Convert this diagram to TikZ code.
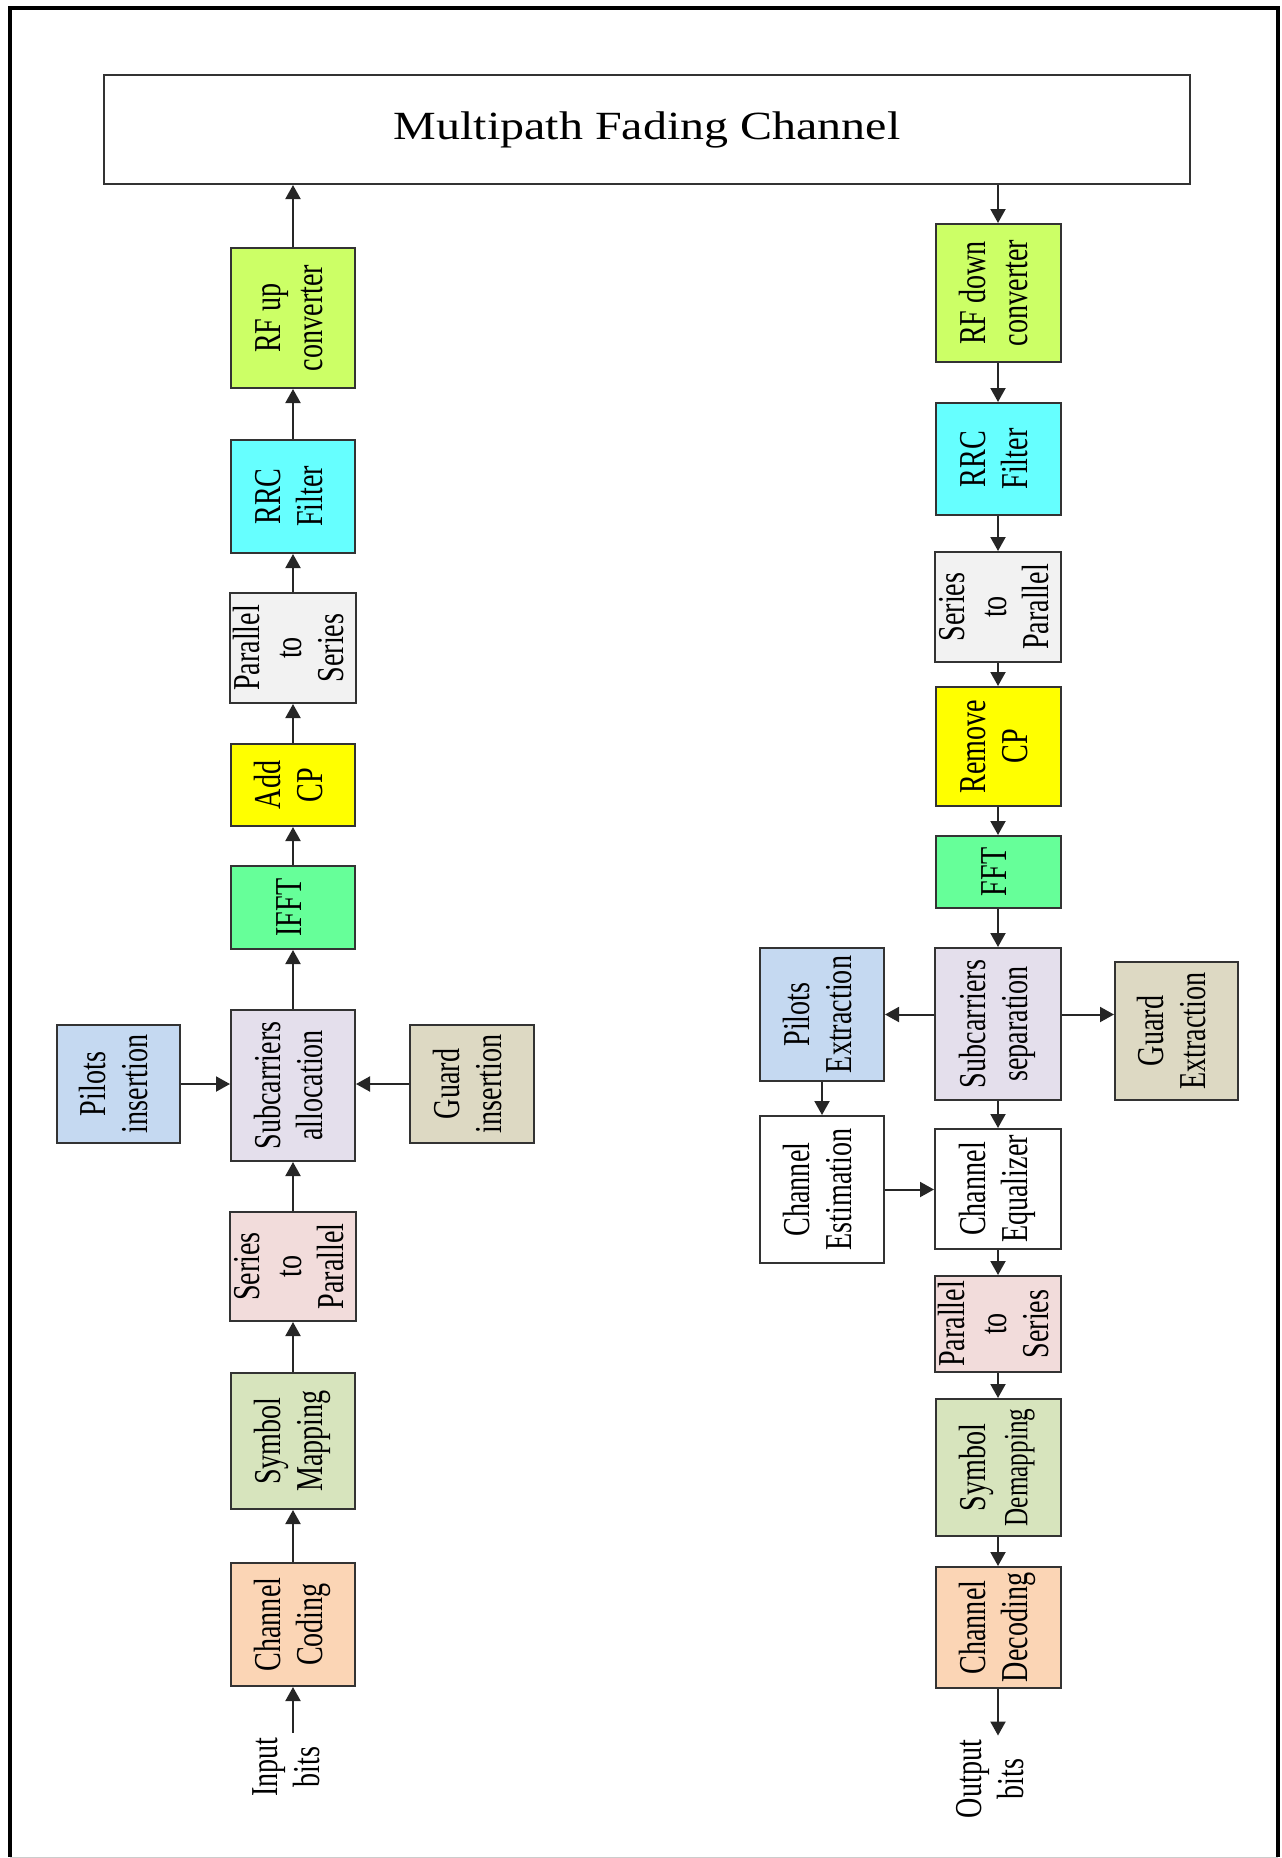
\documentclass[tikz,border=0pt]{standalone}
\usepackage{fontspec}
\setmainfont{Liberation Serif}
\newfontfamily\boxfont[FakeStretch=0.74]{Liberation Serif}
\newfontfamily\titlefont[FakeStretch=1.2]{Liberation Serif}
\usepackage{graphicx}
\usepackage{tikz}
\usetikzlibrary{arrows.meta}

\definecolor{rfgreen}{HTML}{CCFF66}
\definecolor{rrccyan}{HTML}{66FFFF}
\definecolor{convgray}{HTML}{F2F2F2}
\definecolor{cpyellow}{HTML}{FFFF00}
\definecolor{fftgreen}{HTML}{66FF99}
\definecolor{subviolet}{HTML}{E4DFEC}
\definecolor{pilotblue}{HTML}{C5D9F1}
\definecolor{guardtan}{HTML}{DDD9C3}
\definecolor{convpink}{HTML}{F2DCDB}
\definecolor{mapgreen}{HTML}{D7E4BD}
\definecolor{codepeach}{HTML}{FBD5B5}

% rotated multi-line label
\newcommand{\vlab}[1]{\rotatebox{90}{\begin{tabular}{@{}c@{}}#1\end{tabular}}}

\begin{document}
\begin{tikzpicture}[x=0.5pt, y=-0.5pt,
        % Define a style for the blocks
        blk/.style={draw=black!80, line width=1pt, inner sep=0pt,
            font=\boxfont\fontsize{19}{21}\selectfont},
        % Define a style for the labels at the ends
        endtxt/.style={inner sep=2pt, font=\boxfont\fontsize{19}{21}\selectfont},
        % Define a style for the connectors
        arr/.style={draw=black!85, line width=1pt, -{Triangle[length=7pt,width=7.5pt]}}]

        \useasboundingbox (0,0) rectangle (1281,1858);

        % 1. Frame around the figure
        \draw[line width=2pt] (10,1857) -- (10,8) -- (1278,8) -- (1278,1857);
        \draw[black!20] (10,1857) -- (1278,1857);

        % 2. The channel
        \node[blk, minimum width=543pt, minimum height=54.5pt,
            font=\titlefont\fontsize{20}{24}\selectfont] (chan) at (647,129.5) {Multipath Fading Channel};

        % 3. Transmitter (left column, bottom to top)
        \node[endtxt] (inbits) at (290,1767) {\vlab{Input\\bits}};
        \node[blk, fill=codepeach, minimum width=62pt, minimum height=61.5pt] (chcod) at (293,1624.5) {\vlab{Channel\\Coding}};
        \node[blk, fill=mapgreen, minimum width=62pt, minimum height=68pt] (symmap) at (293,1441) {\vlab{Symbol\\Mapping}};
        \node[blk, fill=convpink, minimum width=62pt, minimum height=54.5pt] (stop) at (293,1266.5) {\vlab{Series\\to\\Parallel}};
        \node[blk, fill=subviolet, minimum width=62pt, minimum height=75.5pt] (suballoc) at (293,1085.5) {\vlab{Subcarriers\\allocation}};
        \node[blk, fill=pilotblue, minimum width=61.5pt, minimum height=59pt] (pilotins) at (118.5,1084) {\vlab{Pilots\\insertion}};
        \node[blk, fill=guardtan, minimum width=62pt, minimum height=59pt] (guardins) at (472,1084) {\vlab{Guard\\insertion}};
        \node[blk, fill=fftgreen, minimum width=62pt, minimum height=41.5pt] (ifft) at (293,907.5) {\vlab{IFFT}};
        \node[blk, fill=cpyellow, minimum width=62pt, minimum height=41pt] (addcp) at (293,785) {\vlab{Add\\CP}};
        \node[blk, fill=convgray, minimum width=62pt, minimum height=55pt] (ptos) at (293,648) {\vlab{Parallel\\to\\Series}};
        \node[blk, fill=rrccyan, minimum width=62pt, minimum height=56.5pt] (rrctx) at (293,496.5) {\vlab{RRC\\Filter}};
        \node[blk, fill=rfgreen, minimum width=62pt, minimum height=70pt] (rfup) at (293,318) {\vlab{RF up\\converter}};

        % 4. Receiver (right column, top to bottom)
        \node[blk, fill=rfgreen, minimum width=62.5pt, minimum height=69pt] (rfdown) at (998,293) {\vlab{RF down\\converter}};
        \node[blk, fill=rrccyan, minimum width=62.5pt, minimum height=56pt] (rrcrx) at (998,459) {\vlab{RRC\\Filter}};
        \node[blk, fill=convgray, minimum width=62.5pt, minimum height=55pt] (stoprx) at (998,607) {\vlab{Series\\to\\Parallel}};
        \node[blk, fill=cpyellow, minimum width=62.5pt, minimum height=59.5pt] (remcp) at (998,746.5) {\vlab{Remove\\CP}};
        \node[blk, fill=fftgreen, minimum width=62.5pt, minimum height=36pt] (fft) at (998,872) {\vlab{FFT}};
        \node[blk, fill=subviolet, minimum width=63pt, minimum height=76pt] (subsep) at (998,1024) {\vlab{Subcarriers\\separation}};
        \node[blk, fill=pilotblue, minimum width=62pt, minimum height=66.5pt] (pilotext) at (822,1014.5) {\vlab{Pilots\\Extraction}};
        \node[blk, fill=guardtan, minimum width=61.5pt, minimum height=69pt] (guardext) at (1176.5,1031) {\vlab{Guard\\Extraction}};
        \node[blk, fill=white, minimum width=62pt, minimum height=73.5pt] (chest) at (822,1189.5) {\vlab{Channel\\Estimation}};
        \node[blk, fill=white, minimum width=63pt, minimum height=60pt] (cheq) at (998,1189) {\vlab{Channel\\Equalizer}};
        \node[blk, fill=convpink, minimum width=62.5pt, minimum height=48pt] (ptosrx) at (998,1324) {\vlab{Parallel\\to\\Series}};
        \node[blk, fill=mapgreen, minimum width=62.5pt, minimum height=68.5pt] (symdemap) at (998,1467.5) {\vlab{Symbol\\{\fontsize{17}{21}\selectfont Demapping}}};
        \node[blk, fill=codepeach, minimum width=62.5pt, minimum height=60.5pt] (chdec) at (998,1627.5) {\vlab{Channel\\Decoding}};
        \node[endtxt] (outbits) at (994,1779) {\vlab{Output\\bits}};

        % 5. Connectors of the transmitter
        \draw[arr] (chcod |- inbits.north) -- (chcod);
        \draw[arr] (chcod) -- (symmap);
        \draw[arr] (symmap) -- (stop);
        \draw[arr] (stop) -- (suballoc);
        \draw[arr] (pilotins) -- (pilotins -| suballoc.west);
        \draw[arr] (guardins) -- (guardins -| suballoc.east);
        \draw[arr] (suballoc) -- (ifft);
        \draw[arr] (ifft) -- (addcp);
        \draw[arr] (addcp) -- (ptos);
        \draw[arr] (ptos) -- (rrctx);
        \draw[arr] (rrctx) -- (rfup);
        \draw[arr] (rfup) -- (rfup |- chan.south);

        % 6. Connectors of the receiver
        \draw[arr] (rfdown |- chan.south) -- (rfdown);
        \draw[arr] (rfdown) -- (rrcrx);
        \draw[arr] (rrcrx) -- (stoprx);
        \draw[arr] (stoprx) -- (remcp);
        \draw[arr] (remcp) -- (fft);
        \draw[arr] (fft) -- (subsep);
        \draw[arr] (subsep.west |- pilotext.east) -- (pilotext.east);
        \draw[arr] (subsep.east |- pilotext.east) -- (guardext.west |- pilotext.east);
        \draw[arr] (pilotext) -- (chest);
        \draw[arr] (subsep) -- (cheq);
        \draw[arr] (chest.east) -- (chest.east -| cheq.west);
        \draw[arr] (cheq) -- (ptosrx);
        \draw[arr] (ptosrx) -- (symdemap);
        \draw[arr] (symdemap) -- (chdec);
        \draw[arr] (chdec) -- (chdec |- outbits.north);

    \end{tikzpicture}
\end{document}
